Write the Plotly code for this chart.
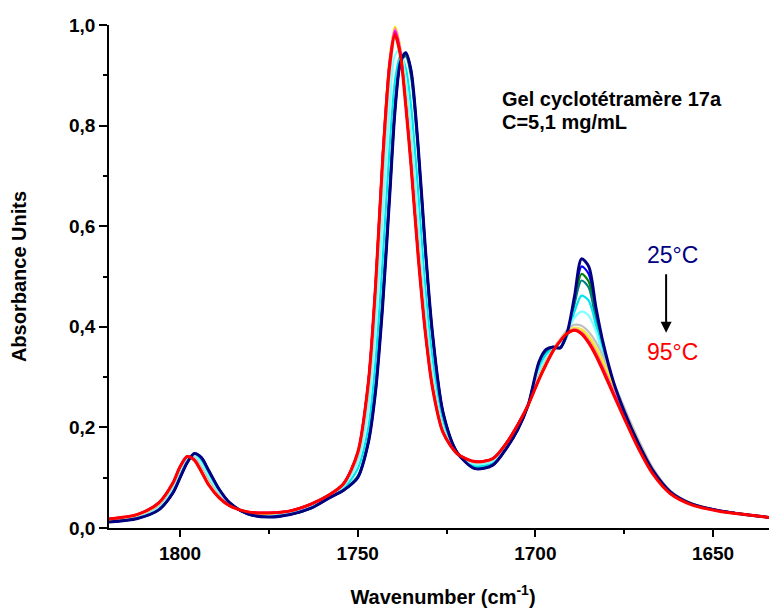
import plotly.graph_objects as go

# Wavenumber grid (cm-1)
wavenumber = [1820, 1812, 1806, 1802, 1800, 1798, 1796, 1794, 1792, 1789, 1786, 1781, 1775, 1769,
              1763, 1758, 1754, 1750, 1747, 1745, 1743, 1741, 1739.5, 1738, 1736.5, 1735, 1733,
              1731, 1729, 1726, 1722, 1717, 1712, 1708, 1705, 1702, 1699, 1697, 1695, 1693, 1691,
              1689, 1687, 1685, 1683, 1681, 1678, 1675, 1671, 1667, 1662, 1656, 1648, 1640, 1632]

a25 = [0.012,0.019,0.036,0.070,0.100,0.130,0.148,0.140,0.115,0.077,0.050,0.028,0.022,0.027,0.040,0.060,0.075,0.100,0.170,0.270,0.440,0.660,0.830,0.925,0.945,0.910,0.760,0.560,0.390,0.230,0.150,0.118,0.125,0.160,0.195,0.245,0.330,0.355,0.360,0.358,0.390,0.460,0.535,0.520,0.440,0.370,0.290,0.232,0.168,0.115,0.072,0.048,0.034,0.026,0.019]
a30 = [0.012,0.019,0.036,0.070,0.100,0.130,0.148,0.140,0.115,0.077,0.050,0.028,0.022,0.027,0.040,0.060,0.075,0.100,0.170,0.270,0.440,0.660,0.830,0.925,0.945,0.910,0.760,0.560,0.390,0.230,0.150,0.118,0.125,0.160,0.195,0.245,0.328,0.354,0.360,0.358,0.388,0.455,0.520,0.505,0.430,0.365,0.288,0.232,0.168,0.115,0.072,0.048,0.034,0.026,0.019]
a35 = [0.012,0.019,0.036,0.070,0.100,0.130,0.147,0.140,0.115,0.077,0.050,0.028,0.022,0.027,0.040,0.060,0.075,0.101,0.172,0.275,0.445,0.665,0.833,0.922,0.940,0.905,0.755,0.556,0.388,0.230,0.150,0.118,0.125,0.160,0.195,0.245,0.326,0.352,0.359,0.358,0.386,0.450,0.505,0.490,0.420,0.360,0.286,0.231,0.168,0.115,0.072,0.048,0.034,0.026,0.019]
a40 = [0.013,0.020,0.037,0.071,0.101,0.131,0.147,0.139,0.114,0.076,0.050,0.028,0.022,0.027,0.040,0.060,0.076,0.103,0.177,0.285,0.460,0.680,0.845,0.928,0.938,0.898,0.745,0.550,0.383,0.228,0.150,0.119,0.126,0.161,0.196,0.245,0.324,0.350,0.358,0.358,0.385,0.445,0.492,0.478,0.415,0.355,0.284,0.230,0.167,0.115,0.072,0.048,0.034,0.026,0.019]
a45 = [0.014,0.021,0.039,0.075,0.106,0.135,0.146,0.134,0.108,0.072,0.048,0.029,0.024,0.029,0.042,0.062,0.080,0.118,0.200,0.330,0.530,0.760,0.890,0.940,0.915,0.840,0.670,0.480,0.340,0.215,0.148,0.123,0.130,0.164,0.198,0.246,0.318,0.345,0.356,0.360,0.383,0.430,0.462,0.452,0.405,0.350,0.281,0.228,0.166,0.114,0.071,0.048,0.034,0.026,0.019]
a50 = [0.015,0.023,0.042,0.080,0.112,0.138,0.144,0.128,0.102,0.068,0.047,0.030,0.026,0.031,0.045,0.064,0.083,0.132,0.240,0.400,0.620,0.840,0.940,0.952,0.890,0.790,0.610,0.440,0.310,0.200,0.146,0.127,0.133,0.167,0.201,0.246,0.310,0.338,0.355,0.368,0.390,0.418,0.430,0.422,0.392,0.342,0.277,0.226,0.165,0.113,0.071,0.048,0.034,0.026,0.019]
a55 = [0.016,0.025,0.045,0.085,0.117,0.141,0.140,0.120,0.095,0.064,0.045,0.031,0.028,0.033,0.047,0.065,0.086,0.142,0.270,0.450,0.690,0.900,0.975,0.945,0.860,0.750,0.570,0.410,0.295,0.195,0.146,0.130,0.136,0.169,0.203,0.246,0.303,0.332,0.356,0.376,0.394,0.404,0.402,0.390,0.370,0.342,0.290,0.240,0.176,0.120,0.074,0.049,0.034,0.026,0.019]
a60 = [0.017,0.026,0.048,0.088,0.120,0.142,0.137,0.115,0.090,0.062,0.044,0.032,0.029,0.034,0.048,0.066,0.088,0.148,0.285,0.470,0.715,0.920,0.985,0.948,0.852,0.735,0.553,0.397,0.287,0.192,0.147,0.131,0.137,0.170,0.204,0.246,0.300,0.330,0.355,0.374,0.390,0.398,0.395,0.382,0.360,0.332,0.282,0.234,0.171,0.117,0.072,0.048,0.034,0.026,0.019]
a65 = [0.017,0.026,0.049,0.089,0.121,0.142,0.136,0.114,0.088,0.061,0.044,0.032,0.029,0.034,0.048,0.066,0.088,0.150,0.292,0.480,0.740,0.935,0.997,0.955,0.855,0.730,0.550,0.395,0.285,0.192,0.148,0.132,0.138,0.171,0.205,0.246,0.298,0.328,0.354,0.373,0.389,0.397,0.392,0.378,0.355,0.327,0.278,0.230,0.168,0.115,0.071,0.048,0.034,0.026,0.019]
a70 = [0.018,0.027,0.049,0.089,0.121,0.142,0.136,0.113,0.087,0.061,0.044,0.032,0.030,0.034,0.048,0.066,0.088,0.150,0.292,0.480,0.738,0.933,0.995,0.953,0.852,0.728,0.548,0.394,0.284,0.191,0.148,0.132,0.138,0.171,0.205,0.246,0.297,0.327,0.353,0.372,0.388,0.396,0.390,0.375,0.352,0.323,0.275,0.227,0.166,0.113,0.070,0.047,0.034,0.026,0.019]
a75 = [0.018,0.027,0.049,0.089,0.121,0.142,0.136,0.113,0.087,0.061,0.044,0.032,0.030,0.034,0.048,0.066,0.088,0.150,0.292,0.482,0.737,0.930,0.993,0.950,0.848,0.725,0.546,0.393,0.283,0.191,0.148,0.132,0.138,0.171,0.205,0.246,0.297,0.327,0.353,0.372,0.388,0.395,0.389,0.373,0.349,0.320,0.272,0.225,0.164,0.112,0.070,0.047,0.034,0.026,0.019]
a80 = [0.018,0.027,0.050,0.090,0.122,0.142,0.136,0.113,0.087,0.061,0.044,0.032,0.030,0.034,0.048,0.066,0.088,0.150,0.292,0.482,0.736,0.928,0.990,0.948,0.846,0.724,0.545,0.392,0.282,0.191,0.148,0.132,0.138,0.171,0.205,0.246,0.296,0.326,0.353,0.372,0.388,0.394,0.388,0.371,0.347,0.318,0.270,0.223,0.162,0.111,0.069,0.047,0.034,0.026,0.019]
a85 = [0.018,0.027,0.050,0.090,0.122,0.142,0.136,0.113,0.087,0.061,0.044,0.032,0.030,0.034,0.048,0.066,0.088,0.150,0.292,0.482,0.735,0.927,0.988,0.946,0.845,0.723,0.544,0.391,0.282,0.190,0.148,0.132,0.138,0.171,0.205,0.246,0.296,0.326,0.353,0.372,0.387,0.394,0.387,0.370,0.346,0.316,0.268,0.221,0.160,0.110,0.069,0.047,0.034,0.026,0.019]
a90 = [0.018,0.027,0.050,0.090,0.122,0.142,0.135,0.112,0.086,0.060,0.044,0.032,0.030,0.034,0.048,0.066,0.088,0.150,0.291,0.481,0.733,0.924,0.985,0.943,0.843,0.722,0.543,0.391,0.281,0.190,0.148,0.132,0.138,0.171,0.205,0.245,0.295,0.325,0.352,0.372,0.387,0.393,0.386,0.369,0.345,0.315,0.267,0.220,0.159,0.109,0.069,0.047,0.034,0.026,0.019]
a95 = [0.018,0.027,0.050,0.090,0.122,0.142,0.135,0.112,0.086,0.060,0.044,0.032,0.030,0.034,0.048,0.066,0.088,0.150,0.290,0.480,0.730,0.920,0.980,0.940,0.840,0.720,0.540,0.390,0.280,0.190,0.148,0.132,0.138,0.170,0.205,0.245,0.295,0.325,0.352,0.372,0.387,0.393,0.386,0.368,0.343,0.313,0.265,0.218,0.158,0.108,0.068,0.046,0.033,0.026,0.019]

temperatures = ["30°C", "35°C", "40°C", "45°C", "50°C", "55°C", "60°C", "65°C",
                "70°C", "75°C", "80°C", "85°C", "90°C", "25°C", "95°C"]
series = [a30, a35, a40, a45, a50, a55, a60, a65, a70, a75, a80, a85, a90, a25, a95]
colors = ["#0000FF", "#008000", "#008080", "#00E5EE", "#80FFFF", "#C0C0C0", "#E8E070",
          "#FFFF00", "#FFC000", "#FF99CC", "#FF60C0", "#FF00FF", "#FF0080", "#000080", "#FF0000"]
widths = [2.2, 2.2, 2.2, 2.2, 2.2, 2.2, 2.2, 2.2, 2.2, 2.2, 2.2, 2.2, 2.2, 3, 3]

FONT = "Liberation Sans, Arial, sans-serif"

fig = go.Figure()
for name, ys, c, w in zip(temperatures, series, colors, widths):
    fig.add_trace(go.Scatter(x=wavenumber, y=ys, mode="lines", name=name,
                             line=dict(color=c, width=w, shape="spline", smoothing=0.8),
                             showlegend=False))

# the page body adds an 8px offset, so the figure is 8px smaller and margins are shifted
fig.update_layout(
    width=769, height=601,
    margin=dict(l=101, r=0, t=17, b=81),
    paper_bgcolor="white", plot_bgcolor="white",
    separators=", ",
    font=dict(family=FONT, color="black"),
    xaxis=dict(range=[1820, 1632], showgrid=False, zeroline=False, automargin=False,
               showline=True, linecolor="black", linewidth=1.5,
               ticks="outside", ticklen=7, tickwidth=1.5, tickcolor="black",
               tick0=1800, dtick=50, tickformat="d",
               minor=dict(ticks="outside", ticklen=4, tickwidth=1.5, tickcolor="black", dtick=25, tick0=1800),
               tickfont=dict(family=FONT, size=19, color="black", weight="bold"),
               title=dict(text="<b>Wavenumber (cm<sup>-1</sup>)</b>", standoff=27,
                          font=dict(family=FONT, size=20, color="black"))),
    yaxis=dict(range=[0, 1.0], showgrid=False, zeroline=False, automargin=False,
               showline=True, linecolor="black", linewidth=1.5,
               ticks="outside", ticklen=8, tickwidth=1.5, tickcolor="black",
               tick0=0, dtick=0.2, tickformat=".1f",
               minor=dict(ticks="outside", ticklen=4, tickwidth=1.5, tickcolor="black", dtick=0.1),
               tickfont=dict(family=FONT, size=19, color="black", weight="bold"),
               title=dict(text="<b>Absorbance Units</b>", standoff=37,
                          font=dict(family=FONT, size=20, color="black"))),
)

font_b = dict(family=FONT, size=20, color="black")
fig.add_annotation(xref="paper", yref="paper", x=0.586, y=0.852, xanchor="left", yanchor="middle",
                   text="<b>Gel cyclotétramère 17a</b>", showarrow=False, font=font_b)
fig.add_annotation(xref="paper", yref="paper", x=0.586, y=0.807, xanchor="left", yanchor="middle",
                   text="<b>C=5,1 mg/mL</b>", showarrow=False, font=font_b)
fig.add_annotation(xref="paper", yref="paper", x=0.844, y=0.543, xanchor="center", yanchor="middle",
                   text="25°C", showarrow=False,
                   font=dict(family=FONT, size=23, color="#000080"))
fig.add_annotation(xref="paper", yref="paper", x=0.844, y=0.35, xanchor="center", yanchor="middle",
                   text="95°C", showarrow=False,
                   font=dict(family=FONT, size=23, color="#FF0000"))
# vertical arrow from 25°C down to 95°C
fig.add_annotation(xref="paper", yref="paper", x=0.834, y=0.388, ax=0, ay=-60,
                   text="", showarrow=True, arrowhead=2, arrowsize=1.1, arrowwidth=2,
                   arrowcolor="black")

fig.write_html("out.html")
